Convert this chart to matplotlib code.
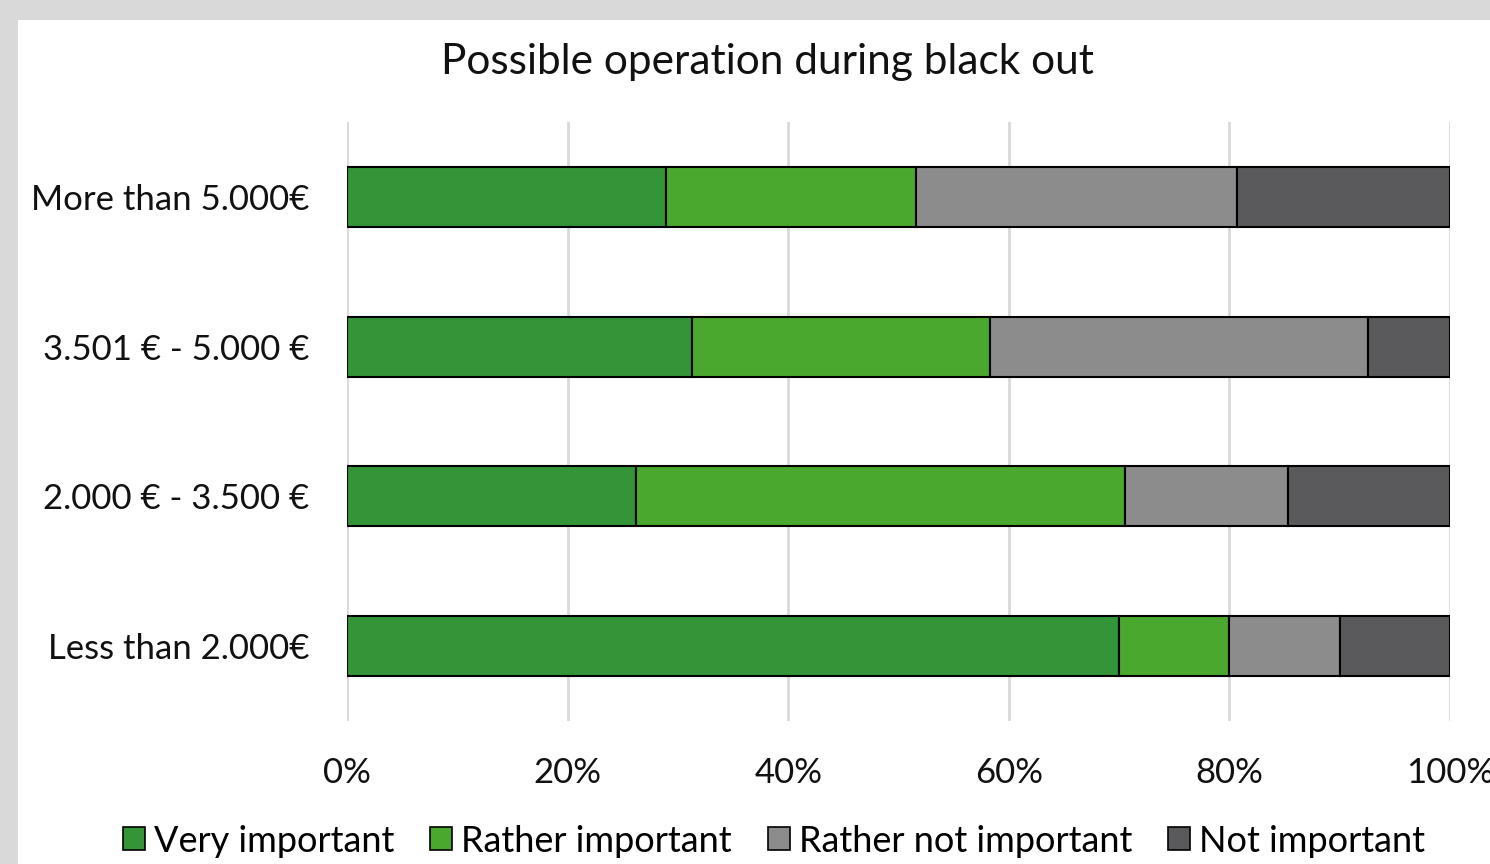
import numpy as np
import matplotlib.pyplot as plt
from matplotlib.patches import Rectangle, Patch

# income groups, bottom to top as drawn
groups = ['Less than 2.000€', '2.000 € - 3.500 €', '3.501 € - 5.000 €', 'More than 5.000€']
very_important = [70.0, 26.2, 31.3, 28.9]
rather_important = [10.0, 44.3, 27.0, 22.7]
rather_not_important = [10.0, 14.8, 34.3, 29.1]
not_important = [10.0, 14.7, 7.4, 19.3]

series = [very_important, rather_important, rather_not_important, not_important]
labels = ['Very important', 'Rather important', 'Rather not important', 'Not important']
colors = ['#339537', '#4aa82e', '#8c8c8c', '#5a5a5c']

plt.rcParams['font.family'] = ['Lato', 'DejaVu Sans']

W, H = 1490, 864
fig = plt.figure(figsize=(W / 100, H / 100), dpi=100, facecolor='#d9d9d9')
# white chart panel
fig.patches.append(Rectangle((18 / W, 0), 1 - 18 / W, 1 - 20 / H, transform=fig.transFigure,
                             facecolor='white', edgecolor='none', zorder=-10))

ax = fig.add_axes([347 / W, (H - 721) / H, (1450 - 347) / W, (721 - 122) / H])
ax.set_facecolor('none')
ax.set_zorder(2)

y = np.arange(len(groups))
left = np.zeros(len(groups))
for vals, lab, col in zip(series, labels, colors):
    ax.barh(y, vals, left=left, height=0.4, color=col, edgecolor='black', linewidth=1.5,
            label=lab, zorder=3)
    left += np.array(vals)

ax.set_xlim(0, 100)
ax.set_ylim(-0.5, len(groups) - 0.5)
ax.set_xticks(np.arange(0, 101, 20))
ax.set_xticklabels([f'{t}%' for t in range(0, 101, 20)])
ax.set_yticks(y)
ax.set_yticklabels(groups)
ax.tick_params(axis='both', length=0, labelsize=25, colors='#111111')
ax.tick_params(axis='x', pad=26)
ax.tick_params(axis='y', pad=27)
ax.xaxis.grid(True, color='#d9d9d9', linewidth=2, zorder=0)
for s in ax.spines.values():
    s.set_visible(False)

fig.text(767 / W, 1 - 62 / H, 'Possible operation during black out', ha='center', va='center',
         fontsize=30.5, color='#111111')

handles = [Patch(facecolor=c, edgecolor='black', linewidth=1.2) for c in colors]
fig.legend(handles, labels, loc='center', bbox_to_anchor=(774 / W, 1 - 841 / H), ncol=4,
           frameon=False, fontsize=26, handlelength=0.6, handleheight=0.6,
           handletextpad=0.25, columnspacing=1.0)

fig.savefig('out.png', dpi=100, facecolor=fig.get_facecolor())
